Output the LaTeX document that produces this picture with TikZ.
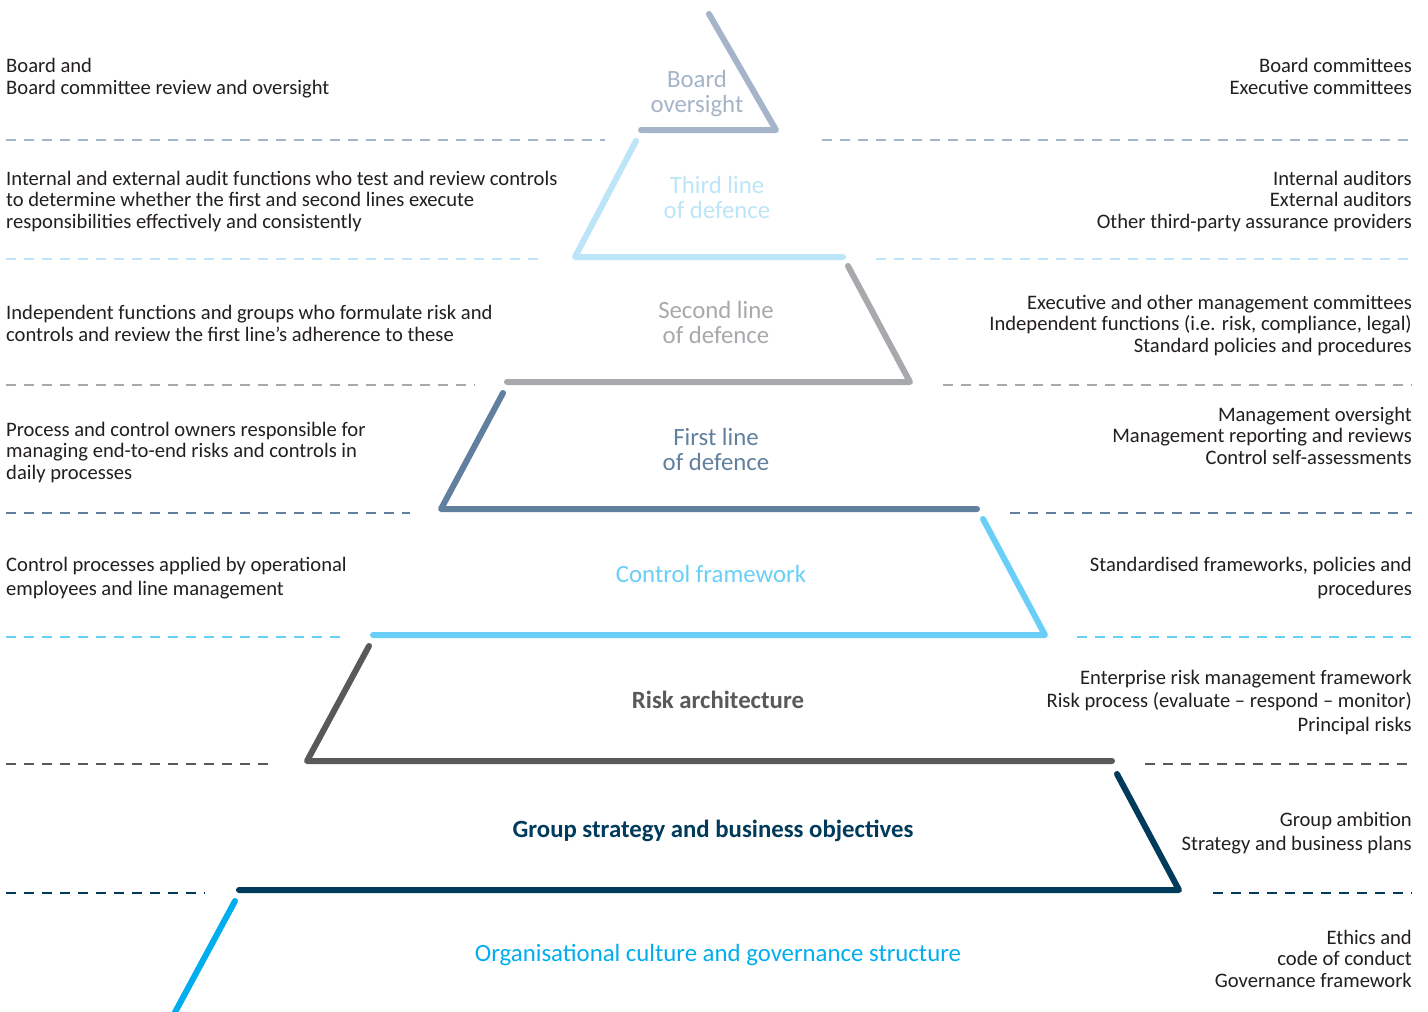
\documentclass[tikz,border=0pt]{standalone}
\usepackage{fontspec}
\setmainfont{Carlito}
\begin{document}
\begin{tikzpicture}[x=1pt,y=-1pt,
  tier/.style={line width=6pt,line cap=round,line join=round},
  sep/.style={line width=2pt,dash pattern=on 10pt off 8pt},
  body/.style={inner sep=0pt,text=bodyc,font=\fontsize{20.6}{21.5}\selectfont},
  lft/.style={body,anchor=base west,align=left},
  rgt/.style={body,anchor=base east,align=right},
  lvl/.style={inner sep=0pt,align=center,font=\fontsize{24.8}{25}\selectfont},
  lvlb/.style={lvl,font=\fontsize{24.8}{25}\selectfont\bfseries}]
\definecolor{bodyc}{HTML}{231F20}
\definecolor{boardc}{HTML}{A5B4C8}
\definecolor{thirdc}{HTML}{BDE5F8}
\definecolor{secondc}{HTML}{A7A9AC}
\definecolor{firstc}{HTML}{61809F}
\definecolor{controlc}{HTML}{6ACFF6}
\definecolor{riskc}{HTML}{58595B}
\definecolor{groupc}{HTML}{003B5C}
\definecolor{orgc}{HTML}{00AEEF}
\useasboundingbox[fill=white] (0,0) rectangle (1428,1012);

% tier outlines: slanted side and base of each level
\coordinate (b1) at (709,14);  \coordinate (b2) at (776,130);  \coordinate (b3) at (641,130);
\coordinate (t1) at (636,141); \coordinate (t2) at (575,257);  \coordinate (t3) at (843,257);
\coordinate (s1) at (848,266); \coordinate (s2) at (910,382);  \coordinate (s3) at (507,382);
\coordinate (f1) at (503,393); \coordinate (f2) at (441,509);  \coordinate (f3) at (977,509);
\coordinate (c1) at (983,519); \coordinate (c2) at (1045,635); \coordinate (c3) at (373,635);
\coordinate (r1) at (369,646); \coordinate (r2) at (307,761);  \coordinate (r3) at (1112,761);
\coordinate (g1) at (1117,774);\coordinate (g2) at (1179,890); \coordinate (g3) at (239,890);
\coordinate (o1) at (235,901); \coordinate (o2) at (173,1016);

\draw[tier,boardc] (b1) -- (b2) -- (b3);
\draw[tier,thirdc] (t1) -- (t2) -- (t3);
\draw[tier,secondc] (s1) -- (s2) -- (s3);
\draw[tier,firstc] (f1) -- (f2) -- (f3);
\draw[tier,controlc] (c1) -- (c2) -- (c3);
\draw[tier,riskc] (r1) -- (r2) -- (r3);
\draw[tier,groupc] (g1) -- (g2) -- (g3);
\draw[tier,orgc] (o1) -- (o2);

% dashed separators between the levels
\coordinate (d1l) at (6,140);  \coordinate (d1m) at (605,140); \coordinate (d1n) at (822,140); \coordinate (d1r) at (1412,140);
\coordinate (d2l) at (6,259);  \coordinate (d2m) at (545,259); \coordinate (d2n) at (876,259); \coordinate (d2r) at (1412,259);
\coordinate (d3l) at (6,385);  \coordinate (d3m) at (475,385); \coordinate (d3n) at (943,385); \coordinate (d3r) at (1412,385);
\coordinate (d4l) at (6,513);  \coordinate (d4m) at (410,513); \coordinate (d4n) at (1010,513);\coordinate (d4r) at (1412,513);
\coordinate (d5l) at (6,637);  \coordinate (d5m) at (345,637); \coordinate (d5n) at (1077,637);\coordinate (d5r) at (1412,637);
\coordinate (d6l) at (6,764);  \coordinate (d6m) at (275,764); \coordinate (d6n) at (1145,764);\coordinate (d6r) at (1412,764);
\coordinate (d7l) at (6,893);  \coordinate (d7m) at (205,893); \coordinate (d7n) at (1213,893);\coordinate (d7r) at (1412,893);
\draw[sep,boardc] (d1l) -- (d1m) (d1n) -- (d1r);
\draw[sep,thirdc] (d2l) -- (d2m) (d2n) -- (d2r);
\draw[sep,secondc] (d3l) -- (d3m) (d3n) -- (d3r);
\draw[sep,firstc] (d4l) -- (d4m) (d4n) -- (d4r);
\draw[sep,controlc] (d5l) -- (d5m) (d5n) -- (d5r);
\draw[sep,riskc] (d6l) -- (d6m) (d6n) -- (d6r);
\draw[sep,groupc] (d7l) -- (d7m) (d7n) -- (d7r);

% level titles
\node[lvl,text=boardc] (lboard) at (697,94) {Board\\oversight};
\node[lvl,text=thirdc] (lthird) at (717,197) {Third line\\of defence};
\node[lvl,text=secondc] (lsecond) at (716,322) {Second line\\of defence};
\node[lvl,text=firstc] (lfirst) at (716,449) {First line\\of defence};
\node[lvl,text=controlc] (lcontrol) at (711,574) {Control framework};
\node[lvlb,text=riskc] (lrisk) at (718,700) {Risk architecture};
\node[lvlb,text=groupc] (lgroup) at (713,831) {Group strategy and business objectives};
\node[lvl,text=orgc] (lorg) at (718,955) {Organisational culture and governance structure};

% descriptions on the left (placed by the baseline of their last line)
\node[lft] (dl1) at (6,94) {Board and\\Board committee review and oversight};
\node[lft] (dl2) at (6,228) {Internal and external audit functions who test and review controls\\to determine whether the first and second lines execute\\responsibilities effectively and consistently};
\node[lft] (dl3) at (6,341) {Independent functions and groups who formulate risk and\\controls and review the first line’s adherence to these};
\node[lft] (dl4) at (6,479) {Process and control owners responsible for\\managing end-to-end risks and controls in\\daily processes};
\node[lft,font=\fontsize{20.6}{24}\selectfont] (dl5) at (6,595) {Control processes applied by operational\\employees and line management};

% examples on the right (placed by the baseline of their last line)
\node[rgt] (dr1) at (1412,94) {Board committees\\Executive committees};
\node[rgt] (dr2) at (1412,228) {Internal auditors\\External auditors\\Other third-party assurance providers};
\node[rgt] (dr3) at (1412,352) {Executive and other management committees\\Independent functions (i.e. risk, compliance, legal)\\Standard policies and procedures};
\node[rgt] (dr4) at (1412,464) {Management oversight\\Management reporting and reviews\\Control self-assessments};
\node[rgt,font=\fontsize{20.6}{24}\selectfont] (dr5) at (1412,595) {Standardised frameworks, policies and\\procedures};
\node[rgt,font=\fontsize{20.6}{23.5}\selectfont] (dr6) at (1412,731) {Enterprise risk management framework\\Risk process (evaluate – respond – monitor)\\Principal risks};
\node[rgt,font=\fontsize{20.6}{24}\selectfont] (dr7) at (1412,850) {Group ambition\\Strategy and business plans};
\node[rgt] (dr8) at (1412,987) {Ethics and\\code of conduct\\Governance framework};
\end{tikzpicture}
\end{document}
